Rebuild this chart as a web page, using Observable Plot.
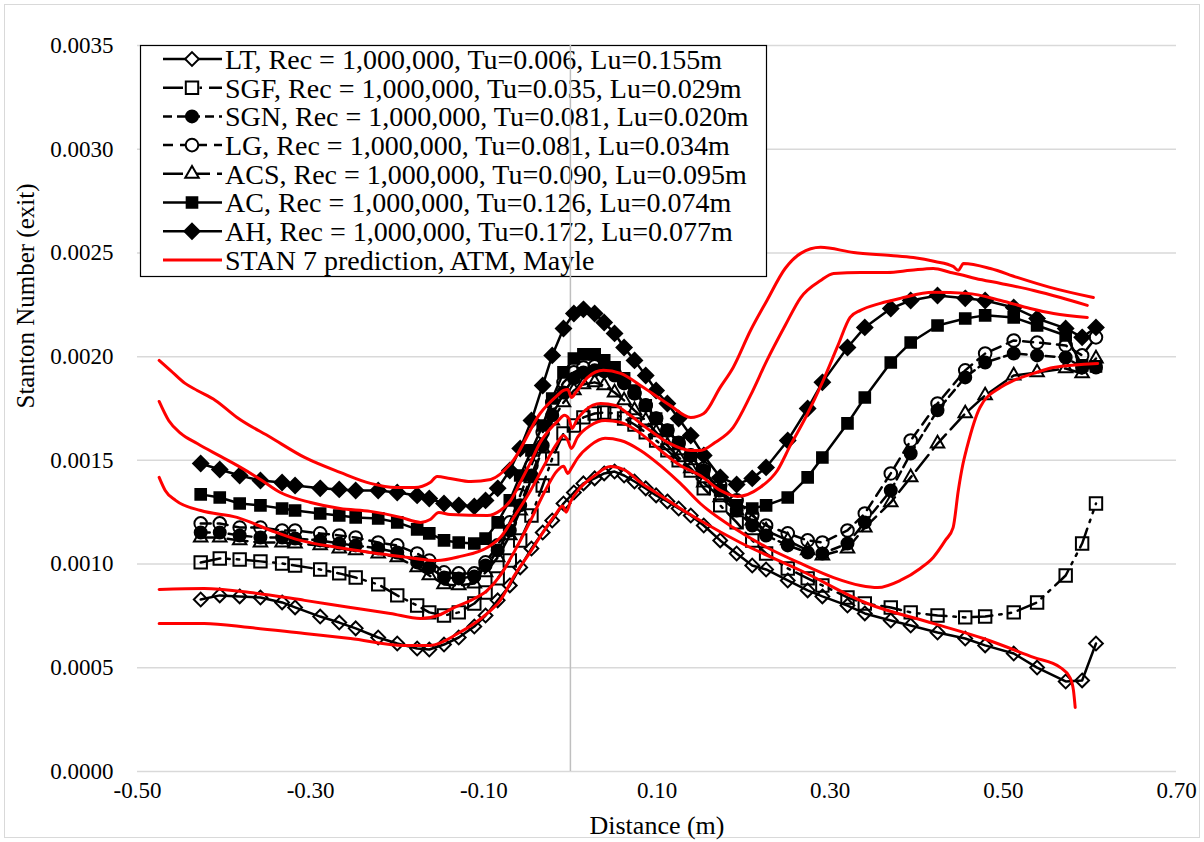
<!DOCTYPE html>
<html><head><meta charset="utf-8">
<script src="https://cdn.jsdelivr.net/npm/d3@7"></script>
<script src="https://cdn.jsdelivr.net/npm/@observablehq/plot@0.6"></script>
<style>
html,body{margin:0;padding:0;background:#fff;}
#chart{width:1204px;height:842px;}
</style></head><body><div id="chart"></div>
<script>
// ---------- data ----------
const xTicks = [-0.5, -0.3, -0.1, 0.1, 0.3, 0.5, 0.7];
const yTicks = [0, 0.0005, 0.001, 0.0015, 0.002, 0.0025, 0.003, 0.0035];

const xDist = [-0.427,-0.405,-0.382,-0.358,-0.333,-0.318,-0.289,-0.267,-0.248,-0.222,-0.200,-0.177,-0.163,-0.146,-0.129,-0.111,-0.098,
 -0.084,-0.070,-0.058,-0.045,-0.032,-0.021,-0.008,0.004,0.015,0.028,0.039,0.051,0.062,0.074,0.087,0.099,0.112,0.125,0.139,
 0.154,0.173,0.192,0.210,0.226,0.251,0.274,0.291,0.320,0.340,0.370,0.393,0.424,0.456,0.479,0.512,0.539,0.572,0.591,0.607];

const stLT = [0.000829,0.000849,0.000844,0.000839,0.000815,0.000791,0.000747,0.000718,0.000690,0.000646,0.000617,0.000593,0.000588,0.000612,0.000646,0.000699,0.000752,
 0.000825,0.000897,0.000984,0.001075,0.001152,0.001210,0.001292,0.001345,0.001389,0.001413,0.001437,0.001446,0.001427,0.001398,0.001365,0.001331,0.001302,0.001268,0.001234,
 0.001186,0.001114,0.001051,0.000993,0.000974,0.000921,0.000873,0.000844,0.000800,0.000762,0.000728,0.000704,0.000670,0.000641,0.000608,0.000569,0.000501,0.000434,0.000439,0.000617];
const stSGF = [0.001008,0.001027,0.001022,0.001013,0.001003,0.000993,0.000974,0.000955,0.000935,0.000902,0.000849,0.000800,0.000767,0.000752,0.000767,0.000810,0.000863,
 0.000931,0.001017,0.001114,0.001234,0.001379,0.001509,0.001630,0.001668,0.001707,0.001726,0.001731,0.001726,0.001702,0.001673,0.001635,0.001596,0.001548,0.001500,0.001451,
 0.001365,0.001283,0.001201,0.001114,0.001051,0.000979,0.000931,0.000897,0.000839,0.000810,0.000791,0.000767,0.000752,0.000743,0.000747,0.000767,0.000815,0.000945,0.001099,0.001292];
const stSGN = [0.001152,0.001152,0.001138,0.001128,0.001128,0.001123,0.001114,0.001099,0.001090,0.001075,0.001056,0.001008,0.000984,0.000935,0.000931,0.000940,0.000993,
 0.001066,0.001162,0.001283,0.001427,0.001572,0.001717,0.001827,0.001895,0.001924,0.001934,0.001929,0.001909,0.001871,0.001823,0.001765,0.001702,0.001644,0.001586,0.001524,
 0.001451,0.001355,0.001258,0.001186,0.001138,0.001090,0.001056,0.001051,0.001099,0.001201,0.001355,0.001533,0.001741,0.001900,0.001972,0.002015,0.002006,0.001996,0.001948,0.001948];
const stLG = [0.001196,0.001196,0.001176,0.001176,0.001162,0.001162,0.001148,0.001138,0.001128,0.001104,0.001090,0.001051,0.001017,0.000960,0.000955,0.000955,0.001008,
 0.001090,0.001201,0.001331,0.001475,0.001635,0.001779,0.001876,0.001924,0.001948,0.001953,0.001943,0.001919,0.001876,0.001823,0.001765,0.001702,0.001644,0.001581,0.001524,
 0.001461,0.001379,0.001307,0.001234,0.001186,0.001148,0.001114,0.001104,0.001162,0.001244,0.001437,0.001596,0.001774,0.001934,0.002015,0.002078,0.002068,0.002054,0.002006,0.002093];
const stACS = [0.001128,0.001128,0.001114,0.001104,0.001104,0.001099,0.001090,0.001075,0.001066,0.001051,0.001032,0.000984,0.000945,0.000902,0.000897,0.000906,0.000960,
 0.001032,0.001138,0.001258,0.001413,0.001557,0.001692,0.001779,0.001837,0.001866,0.001876,0.001861,0.001827,0.001789,0.001741,0.001692,0.001635,0.001572,0.001514,0.001461,
 0.001393,0.001321,0.001258,0.001210,0.001162,0.001114,0.001066,0.001041,0.001075,0.001176,0.001297,0.001418,0.001581,0.001726,0.001813,0.001909,0.001924,0.001943,0.001919,0.001991];
const stAC = [0.001336,0.001321,0.001292,0.001283,0.001268,0.001258,0.001244,0.001234,0.001225,0.001220,0.001201,0.001167,0.001148,0.001114,0.001104,0.001099,0.001123,
 0.001201,0.001307,0.001427,0.001548,0.001668,0.001798,0.001924,0.001991,0.002011,0.002011,0.001982,0.001948,0.001895,0.001837,0.001765,0.001702,0.001644,0.001586,0.001524,
 0.001442,0.001355,0.001283,0.001268,0.001283,0.001321,0.001418,0.001514,0.001678,0.001803,0.001972,0.002068,0.002150,0.002184,0.002199,0.002189,0.002150,0.002102,0.001958,0.001953];
const stAH = [0.001485,0.001456,0.001427,0.001403,0.001393,0.001379,0.001365,0.001360,0.001355,0.001355,0.001345,0.001331,0.001316,0.001292,0.001283,0.001278,0.001307,
 0.001365,0.001451,0.001557,0.001692,0.001861,0.002006,0.002136,0.002208,0.002228,0.002208,0.002165,0.002112,0.002044,0.001982,0.001909,0.001837,0.001774,0.001702,0.001620,
 0.001524,0.001418,0.001384,0.001413,0.001466,0.001596,0.001750,0.001876,0.002044,0.002141,0.002232,0.002271,0.002295,0.002281,0.002271,0.002237,0.002184,0.002136,0.002093,0.002141];

// STAN 7 predictions (5 curves)
const stanX1 = [-0.475,-0.462,-0.445,-0.431,-0.410,-0.385,-0.346,-0.307,-0.266,-0.231,-0.202,-0.180,-0.162,-0.154,-0.139,-0.115,-0.092,-0.066,-0.035,-0.015,-0.008,-0.003,0.001,0.007,0.020,0.038,0.058,0.084,0.115,0.139,0.154,0.173,0.188,0.208,0.227,0.248,0.266,0.289,0.327,0.370,0.396,0.421,0.442,0.448,0.454,0.485,0.516,0.554,0.604];
const stanY1 = [0.001982,0.001934,0.001871,0.001837,0.001789,0.001707,0.001610,0.001514,0.001442,0.001389,0.001369,0.001369,0.001393,0.001422,0.001413,0.001398,0.001408,0.001500,0.001726,0.001813,0.001837,0.001842,0.001803,0.001832,0.001900,0.001934,0.001919,0.001852,0.001765,0.001707,0.001726,0.001852,0.001948,0.002126,0.002271,0.002425,0.002498,0.002527,0.002502,0.002488,0.002478,0.002459,0.002435,0.002416,0.002449,0.002425,0.002382,0.002334,0.002285];
const stanX2 = [-0.475,-0.464,-0.450,-0.431,-0.404,-0.381,-0.358,-0.335,-0.300,-0.266,-0.231,-0.196,-0.173,-0.162,-0.152,-0.139,-0.096,-0.081,-0.069,-0.058,-0.046,-0.035,-0.023,-0.014,-0.007,-0.002,0.002,0.007,0.017,0.035,0.052,0.069,0.092,0.115,0.139,0.150,0.167,0.188,0.208,0.227,0.248,0.266,0.289,0.304,0.335,0.366,0.393,0.419,0.439,0.450,0.468,0.497,0.535,0.566,0.597];
const stanY2 = [0.001784,0.001692,0.001630,0.001581,0.001519,0.001466,0.001408,0.001345,0.001297,0.001268,0.001254,0.001225,0.001201,0.001215,0.001249,0.001239,0.001234,0.001258,0.001307,0.001393,0.001490,0.001586,0.001654,0.001692,0.001717,0.001702,0.001654,0.001692,0.001741,0.001774,0.001765,0.001717,0.001644,0.001581,0.001548,0.001548,0.001586,0.001659,0.001813,0.001982,0.002150,0.002285,0.002367,0.002401,0.002406,0.002406,0.002416,0.002425,0.002406,0.002396,0.002377,0.002353,0.002319,0.002285,0.002247];
const stanX3 = [-0.475,-0.468,-0.456,-0.427,-0.385,-0.346,-0.312,-0.269,-0.231,-0.196,-0.154,-0.127,-0.096,-0.081,-0.064,-0.046,-0.029,-0.017,-0.008,-0.003,0.001,0.008,0.023,0.040,0.058,0.081,0.104,0.127,0.150,0.173,0.193,0.219,0.239,0.254,0.271,0.292,0.309,0.323,0.335,0.358,0.381,0.419,0.458,0.497,0.531,0.558,0.597];
const stanY3 = [0.001418,0.001355,0.001307,0.001258,0.001225,0.001162,0.001114,0.001080,0.001056,0.001037,0.001017,0.001037,0.001080,0.001128,0.001234,0.001355,0.001485,0.001572,0.001620,0.001596,0.001557,0.001610,0.001668,0.001692,0.001683,0.001630,0.001548,0.001475,0.001427,0.001355,0.001326,0.001369,0.001451,0.001572,0.001702,0.001885,0.002054,0.002189,0.002223,0.002257,0.002281,0.002310,0.002305,0.002271,0.002232,0.002208,0.002189];
const stanX4 = [-0.475,-0.423,-0.370,-0.307,-0.254,-0.208,-0.173,-0.150,-0.134,-0.115,-0.096,-0.081,-0.064,-0.046,-0.029,-0.015,-0.008,-0.003,0.001,0.008,0.023,0.040,0.058,0.081,0.104,0.127,0.150,0.188,0.227,0.266,0.304,0.335,0.355,0.381,0.404,0.419,0.433,0.442,0.448,0.453,0.458,0.473,0.497,0.512,0.535,0.558,0.609];
const stanY4 = [0.000878,0.000882,0.000863,0.000825,0.000791,0.000762,0.000738,0.000757,0.000791,0.000825,0.000873,0.000945,0.001066,0.001210,0.001355,0.001451,0.001471,0.001437,0.001461,0.001509,0.001572,0.001606,0.001596,0.001548,0.001475,0.001389,0.001292,0.001176,0.001080,0.001003,0.000935,0.000897,0.000887,0.000921,0.000979,0.001032,0.001114,0.001176,0.001355,0.001475,0.001562,0.001755,0.001852,0.001885,0.001919,0.001948,0.001967];
const stanX5 = [-0.475,-0.423,-0.370,-0.307,-0.254,-0.192,-0.162,-0.130,-0.096,-0.081,-0.064,-0.046,-0.029,-0.017,-0.009,-0.005,0.000,0.012,0.029,0.046,0.064,0.081,0.104,0.127,0.150,0.196,0.266,0.343,0.419,0.477,0.535,0.566,0.577,0.581,0.583];
const stanY5 = [0.000714,0.000714,0.000694,0.000665,0.000641,0.000608,0.000608,0.000665,0.000762,0.000825,0.000950,0.001060,0.001170,0.001240,0.001280,0.001250,0.001300,0.001370,0.001430,0.001470,0.001450,0.001393,0.001331,0.001268,0.001210,0.001104,0.000969,0.000810,0.000714,0.000641,0.000550,0.000501,0.000453,0.000391,0.000309];

const seriesNames = [
  "LT, Rec = 1,000,000, Tu=0.006, Lu=0.155m",
  "SGF, Rec = 1,000,000, Tu=0.035, Lu=0.029m",
  "SGN, Rec = 1,000,000, Tu=0.081, Lu=0.020m",
  "LG, Rec = 1,000,000, Tu=0.081, Lu=0.034m",
  "ACS, Rec = 1,000,000, Tu=0.090, Lu=0.095m",
  "AC, Rec = 1,000,000, Tu=0.126, Lu=0.074m",
  "AH, Rec = 1,000,000, Tu=0.172, Lu=0.077m"
];
const stanName = "STAN 7 prediction, ATM, Mayle";

// ---------- styling ----------
const FONT = "'Liberation Serif','Times New Roman',serif";
const styles = [
  {y: stLT,  symbol: "diamond2", r: 6.2, fill: "none",  dash: null},
  {y: stSGF, symbol: "square",   r: 7.0, fill: "none",  dash: "20,7,2.5,7,2.5,7"},
  {y: stSGN, symbol: "circle",   r: 6.0, fill: "black", dash: "9,5"},
  {y: stLG,  symbol: "circle",   r: 6.3, fill: "none",  dash: "10,7"},
  {y: stACS, symbol: "triangle", r: 5.0, fill: "none",  dash: "20,7"},
  {y: stAC,  symbol: "square",   r: 6.0, fill: "black", dash: null},
  {y: stAH,  symbol: "diamond2", r: 6.8, fill: "black", dash: null}
];
const stan = [[stanX1, stanY1], [stanX2, stanY2], [stanX3, stanY3], [stanX4, stanY4], [stanX5, stanY5]];

const marks = [
  Plot.gridY(yTicks, {stroke: "#d9d9d9", strokeOpacity: 1, strokeWidth: 1.5}),
  Plot.ruleX([0], {stroke: "#bfbfbf", strokeWidth: 1.5}),
  Plot.axisX(xTicks, {tickSize: 0, tickPadding: 10, tickFormat: d => d.toFixed(2), label: null, fontSize: 23}),
  Plot.axisY(yTicks, {tickSize: 0, tickPadding: 24, tickFormat: d => d.toFixed(4), label: null, fontSize: 23})
];
styles.forEach(s => {
  const data = xDist.map((x, i) => ({x, y: s.y[i]}));
  marks.push(Plot.line(data, {x: "x", y: "y", stroke: "black", strokeWidth: 2.5, strokeDasharray: s.dash || undefined}));
  marks.push(Plot.dot(data, {x: "x", y: "y", symbol: s.symbol, r: s.r, stroke: "black", strokeWidth: 2, fill: s.fill}));
});
stan.forEach(([xs, ys]) => {
  const data = xs.map((x, i) => ({x, y: ys[i]}));
  marks.push(Plot.line(data, {x: "x", y: "y", stroke: "#ff0000", strokeWidth: 3, curve: "monotone-x"}));
});
marks.push(Plot.text(["Distance (m)"], {text: d => d, frameAnchor: "bottom", dy: 62, fontSize: 26}));
marks.push(Plot.text(["Stanton Number (exit)"], {text: d => d, frameAnchor: "left", dx: -112, rotate: -90, fontSize: 25}));

const chart = Plot.plot({
  width: 1204, height: 842,
  marginLeft: 137, marginRight: 28, marginTop: 45, marginBottom: 71,
  style: {fontFamily: FONT, fontSize: "23px", background: "white", color: "black"},
  x: {domain: [-0.5, 0.7], label: null},
  y: {domain: [0, 0.0035], label: null},
  marks
});
document.getElementById("chart").appendChild(chart);

// ---------- legend & border (drawn into the SVG) ----------
const svgNode = chart.tagName.toLowerCase() === "svg" ? chart : chart.querySelector("svg");
const svg = d3.select(svgNode);
svg.insert("rect", ":first-child").attr("x", 4.5).attr("y", 4.5).attr("width", 1195).attr("height", 833)
  .attr("fill", "white").attr("stroke", "#d9d9d9").attr("stroke-width", 1);

const ruleNode = svgNode.querySelector('g[aria-label="rule"]');
const lg = d3.select(svgNode.insertBefore(document.createElementNS("http://www.w3.org/2000/svg", "g"), ruleNode))
  .attr("text-anchor", "start");
lg.append("rect").attr("x", 140.5).attr("y", 45.5).attr("width", 626).attr("height", 231)
  .attr("fill", "white").attr("stroke", "black").attr("stroke-width", 1.2);
const symMap = {diamond2: d3.symbolDiamond2, square: d3.symbolSquare, circle: d3.symbolCircle, triangle: d3.symbolTriangle};
const rowY = i => 59 + i * 28.7;
const LEG_FS = 28;
styles.forEach((s, i) => {
  const y = rowY(i);
  lg.append("line").attr("x1", 163).attr("x2", 222).attr("y1", y).attr("y2", y)
    .attr("stroke", "black").attr("stroke-width", 2.5).attr("stroke-dasharray", s.dash);
  lg.append("path").attr("d", d3.symbol().type(symMap[s.symbol]).size(Math.PI * s.r * s.r)())
    .attr("transform", `translate(192,${y})`).attr("fill", s.fill === "none" ? "white" : s.fill)
    .attr("stroke", "black").attr("stroke-width", 2);
  lg.append("text").attr("x", 225).attr("y", y).attr("dy", "0.35em").attr("text-anchor", "start")
    .attr("font-family", FONT).attr("font-size", LEG_FS).attr("fill", "black").text(seriesNames[i]);
});
{
  const y = rowY(7);
  lg.append("line").attr("x1", 163).attr("x2", 222).attr("y1", y).attr("y2", y)
    .attr("stroke", "#ff0000").attr("stroke-width", 3);
  lg.append("text").attr("x", 225).attr("y", y).attr("dy", "0.35em").attr("text-anchor", "start")
    .attr("font-family", FONT).attr("font-size", LEG_FS).attr("fill", "black").text(stanName);
}
</script>
</body></html>
